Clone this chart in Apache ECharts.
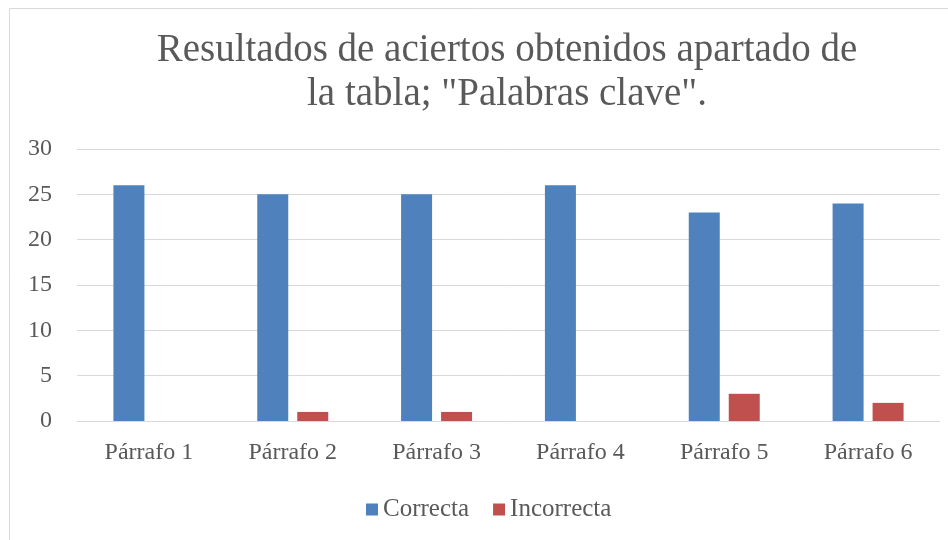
<!DOCTYPE html>
<html>
<head>
<meta charset="utf-8">
<script src="https://cdn.jsdelivr.net/npm/echarts@6/dist/echarts.min.js"></script>
<style>
  html, body { margin: 0; padding: 0; background: #fff; }
  #chart { width: 948px; height: 540px; }
</style>
</head>
<body>
<div id="chart"></div>
<script>
var categories = ['Párrafo 1', 'Párrafo 2', 'Párrafo 3', 'Párrafo 4', 'Párrafo 5', 'Párrafo 6'];
var correcta = [26, 25, 25, 26, 23, 24];
var incorrecta = [0, 1, 1, 0, 3, 2];
var yTicks = [0, 5, 10, 15, 20, 25, 30];

var font = "'Liberation Serif', serif";
var chart = echarts.init(document.getElementById('chart'));

var option = {
  backgroundColor: '#fff',
  animation: false,
  graphic: [{
    type: 'rect',
    shape: { x: 9.5, y: 8.5, width: 960, height: 560 },
    style: { fill: 'none', stroke: '#d9d9d9', lineWidth: 1 },
    silent: true
  }],
  title: {
    text: 'Resultados de aciertos obtenidos apartado de\nla tabla; "Palabras clave".',
    left: 502,
    top: 24,
    textAlign: 'center',
    textStyle: {
      fontFamily: font,
      fontSize: 39,
      fontWeight: 'normal',
      color: '#595959',
      lineHeight: 44
    }
  },
  legend: {
    data: ['Correcta', 'Incorrecta'],
    left: 361,
    top: 492,
    itemWidth: 12,
    itemHeight: 12,
    itemGap: 24,
    icon: 'rect',
    textStyle: { fontFamily: font, fontSize: 25, color: '#595959' }
  },
  grid: { left: 77, right: 8, top: 149, bottom: 119, containLabel: false },
  xAxis: {
    type: 'category',
    data: categories,
    axisLine: { lineStyle: { color: '#d9d9d9', width: 1 } },
    axisTick: { show: false },
    axisLabel: { fontFamily: font, fontSize: 24, color: '#595959', margin: 20 }
  },
  yAxis: {
    type: 'value',
    min: yTicks[0],
    max: yTicks[yTicks.length - 1],
    interval: 5,
    axisLine: { show: false },
    axisTick: { show: false },
    splitLine: { lineStyle: { color: '#d9d9d9', width: 1 } },
    axisLabel: { fontFamily: font, fontSize: 24, color: '#595959', margin: 25 }
  },
  series: [
    {
      name: 'Correcta',
      type: 'bar',
      data: correcta,
      barWidth: 31,
      barGap: '29%',
      itemStyle: { color: '#4f81bd' }
    },
    {
      name: 'Incorrecta',
      type: 'bar',
      data: incorrecta,
      barWidth: 31,
      itemStyle: { color: '#c0504d' }
    }
  ]
};
chart.setOption(option);
</script>
</body>
</html>
